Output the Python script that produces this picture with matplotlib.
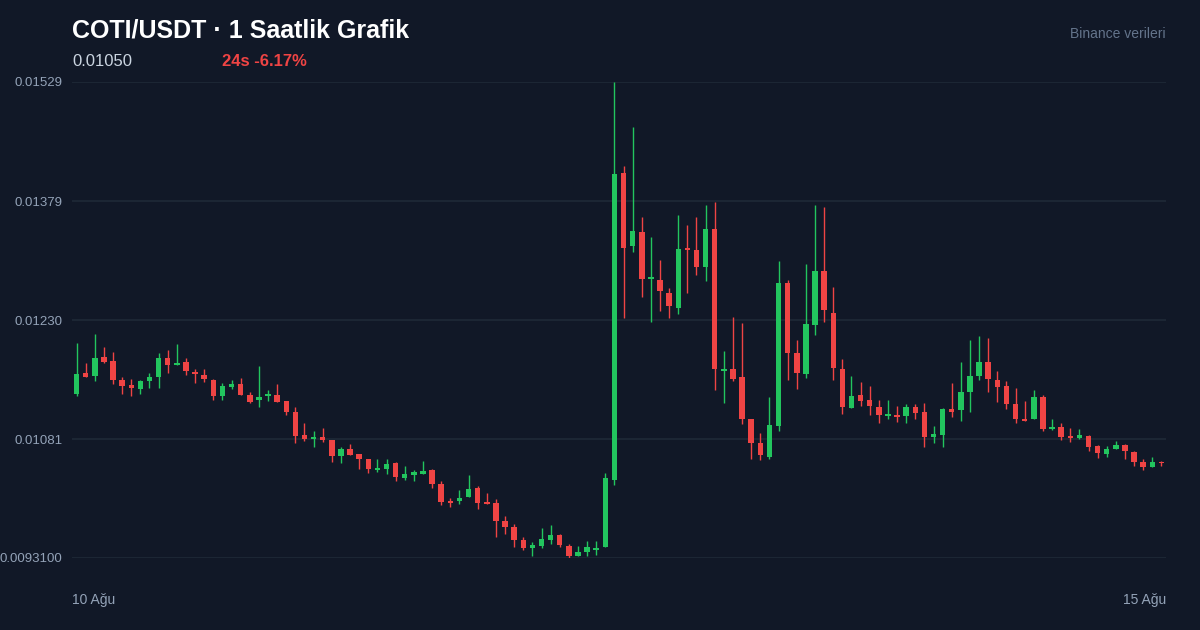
import numpy as np
import matplotlib
matplotlib.use("Agg")
import matplotlib.pyplot as plt

plt.rcParams['font.family'] = ['Liberation Sans', 'DejaVu Sans']

# COTI/USDT saatlik mumlar (120 adet)
opens = [0.01137, 0.01163, 0.01160, 0.01183, 0.01178, 0.01155, 0.01148, 0.01143, 0.01153, 0.01158,
         0.01182, 0.01173, 0.01177, 0.01165, 0.01161, 0.01155, 0.01134, 0.01146, 0.01150, 0.01136,
         0.01129, 0.01134, 0.01136, 0.01128, 0.01114, 0.01085, 0.01081, 0.01083, 0.01079, 0.01059,
         0.01068, 0.01062, 0.01055, 0.01041, 0.01043, 0.01050, 0.01032, 0.01035, 0.01037, 0.01041,
         0.01024, 0.01003, 0.01002, 0.01008, 0.01019, 0.01001, 0.01000, 0.00978, 0.00970, 0.00953,
         0.00944, 0.00946, 0.00954, 0.00960, 0.00946, 0.00934, 0.00938, 0.00941, 0.00945, 0.01029,
         0.01415, 0.01323, 0.01341, 0.01282, 0.01280, 0.01264, 0.01245, 0.01320, 0.01318, 0.01297,
         0.01344, 0.01166, 0.01168, 0.01158, 0.01105, 0.01075, 0.01058, 0.01097, 0.01277, 0.01188,
         0.01162, 0.01224, 0.01292, 0.01239, 0.01168, 0.01120, 0.01136, 0.01130, 0.01121, 0.01110,
         0.01111, 0.01110, 0.01121, 0.01114, 0.01083, 0.01086, 0.01118, 0.01117, 0.01139, 0.01160,
         0.01177, 0.01155, 0.01147, 0.01124, 0.01105, 0.01105, 0.01133, 0.01093, 0.01096, 0.01084,
         0.01082, 0.01084, 0.01072, 0.01062, 0.01068, 0.01073, 0.01064, 0.01051, 0.01045, 0.01052]
highs = [0.01201, 0.01176, 0.01212, 0.01196, 0.01190, 0.01159, 0.01156, 0.01154, 0.01164, 0.01189,
         0.01192, 0.01200, 0.01182, 0.01169, 0.01168, 0.01156, 0.01151, 0.01155, 0.01157, 0.01140,
         0.01172, 0.01142, 0.01150, 0.01128, 0.01121, 0.01100, 0.01091, 0.01094, 0.01079, 0.01070,
         0.01074, 0.01062, 0.01056, 0.01055, 0.01055, 0.01052, 0.01047, 0.01042, 0.01053, 0.01043,
         0.01028, 0.01007, 0.01016, 0.01035, 0.01021, 0.01013, 0.01005, 0.00984, 0.00974, 0.00957,
         0.00951, 0.00969, 0.00973, 0.00961, 0.00949, 0.00946, 0.00952, 0.00952, 0.01038, 0.01529,
         0.01424, 0.01473, 0.01360, 0.01334, 0.01305, 0.01270, 0.01362, 0.01349, 0.01360, 0.01374,
         0.01378, 0.01191, 0.01234, 0.01226, 0.01105, 0.01088, 0.01133, 0.01304, 0.01280, 0.01205,
         0.01300, 0.01375, 0.01372, 0.01271, 0.01181, 0.01160, 0.01152, 0.01147, 0.01130, 0.01129,
         0.01122, 0.01124, 0.01124, 0.01126, 0.01097, 0.01119, 0.01151, 0.01177, 0.01205, 0.01210,
         0.01207, 0.01166, 0.01153, 0.01144, 0.01128, 0.01142, 0.01136, 0.01106, 0.01101, 0.01094,
         0.01093, 0.01085, 0.01073, 0.01072, 0.01078, 0.01074, 0.01065, 0.01056, 0.01058, 0.01053]
lows = [0.01134, 0.01158, 0.01153, 0.01176, 0.01150, 0.01137, 0.01134, 0.01137, 0.01145, 0.01145,
        0.01163, 0.01173, 0.01161, 0.01151, 0.01152, 0.01130, 0.01129, 0.01143, 0.01136, 0.01126,
        0.01121, 0.01128, 0.01127, 0.01111, 0.01075, 0.01078, 0.01070, 0.01077, 0.01052, 0.01050,
        0.01060, 0.01043, 0.01038, 0.01039, 0.01036, 0.01028, 0.01029, 0.01028, 0.01037, 0.01019,
        0.00998, 0.00995, 0.00999, 0.01008, 0.00992, 0.00999, 0.00957, 0.00961, 0.00945, 0.00941,
        0.00934, 0.00943, 0.00949, 0.00945, 0.00931, 0.00934, 0.00933, 0.00935, 0.00945, 0.01023,
        0.01232, 0.01316, 0.01259, 0.01228, 0.01241, 0.01232, 0.01237, 0.01264, 0.01287, 0.01279,
        0.01142, 0.01126, 0.01153, 0.01099, 0.01056, 0.01054, 0.01056, 0.01091, 0.01155, 0.01143,
        0.01157, 0.01211, 0.01228, 0.01154, 0.01112, 0.01120, 0.01122, 0.01111, 0.01101, 0.01106,
        0.01102, 0.01100, 0.01106, 0.01070, 0.01076, 0.01070, 0.01108, 0.01103, 0.01115, 0.01154,
        0.01140, 0.01127, 0.01118, 0.01100, 0.01103, 0.01105, 0.01090, 0.01092, 0.01079, 0.01077,
        0.01081, 0.01065, 0.01057, 0.01058, 0.01068, 0.01055, 0.01046, 0.01041, 0.01045, 0.01046]
closes = [0.01162, 0.01158, 0.01182, 0.01177, 0.01155, 0.01147, 0.01144, 0.01153, 0.01158, 0.01182,
          0.01173, 0.01176, 0.01166, 0.01162, 0.01156, 0.01135, 0.01147, 0.01149, 0.01136, 0.01127,
          0.01133, 0.01137, 0.01127, 0.01114, 0.01084, 0.01080, 0.01083, 0.01079, 0.01059, 0.01068,
          0.01060, 0.01056, 0.01043, 0.01044, 0.01049, 0.01033, 0.01036, 0.01039, 0.01040, 0.01024,
          0.01001, 0.01000, 0.01007, 0.01018, 0.01000, 0.00999, 0.00977, 0.00970, 0.00953, 0.00944,
          0.00947, 0.00955, 0.00960, 0.00947, 0.00934, 0.00939, 0.00945, 0.00944, 0.01031, 0.01414,
          0.01321, 0.01342, 0.01282, 0.01283, 0.01266, 0.01248, 0.01319, 0.01318, 0.01297, 0.01344,
          0.01169, 0.01168, 0.01156, 0.01106, 0.01076, 0.01060, 0.01098, 0.01276, 0.01189, 0.01164,
          0.01225, 0.01292, 0.01242, 0.01170, 0.01121, 0.01135, 0.01128, 0.01122, 0.01111, 0.01112,
          0.01108, 0.01121, 0.01113, 0.01083, 0.01087, 0.01118, 0.01115, 0.01139, 0.01160, 0.01177,
          0.01156, 0.01146, 0.01125, 0.01105, 0.01103, 0.01133, 0.01093, 0.01096, 0.01083, 0.01082,
          0.01085, 0.01070, 0.01063, 0.01068, 0.01073, 0.01065, 0.01051, 0.01045, 0.01051, 0.01050]

ytick_labels = ['0.0093100', '0.01081', '0.01230', '0.01379', '0.01529']
xtick_labels = ['10 Ağu', '15 Ağu']
title = 'COTI/USDT · 1 Saatlik Grafik'
last_price = '0.01050'
change_24h = '24s -6.17%'
source = 'Binance verileri'

BG = '#111827'
GREEN = '#22c55e'
RED = '#ef4444'

o = np.array(opens)
h = np.array(highs)
l = np.array(lows)
c = np.array(closes)
x = np.arange(len(o))
up = c >= o
colors = np.where(up, GREEN, RED)

fig = plt.figure(figsize=(12, 6.3), dpi=100, facecolor=BG)
ax = fig.add_axes([72 / 1200, 1 - 558 / 630, 1094 / 1200, 476 / 630])
ax.set_facecolor(BG)

ymin, ymax = 0.00931, 0.01529
ax.set_ylim(ymin, ymax)
ax.set_xlim(-0.5, len(o) - 0.5)

ax.set_yticks(np.linspace(ymin, ymax, 5))
ax.set_yticklabels(ytick_labels)
ax.grid(axis='y', color='#1f2937', lw=1.2)
ax.set_axisbelow(True)

# fitiller ve govdeler
ax.vlines(x, l, h, colors=colors, lw=1.0, zorder=2)
body_h = np.maximum(np.abs(c - o), 0.00002)
body_b = np.minimum(o, c)
ax.bar(x, body_h, bottom=body_b, width=0.6, color=colors, zorder=3)

ax.set_xticks([-0.5, len(o) - 0.5])
ax.set_xticklabels(xtick_labels)
labs = ax.get_xticklabels()
labs[0].set_ha('left')
labs[1].set_ha('right')

ax.tick_params(axis='y', length=0, pad=7, labelsize=9.5, labelcolor='#94a3b8')
ax.tick_params(axis='x', length=0, pad=25, labelsize=10, labelcolor='#94a3b8')
for s in ax.spines.values():
    s.set_visible(False)

fig.text(72 / 1200, 1 - 37.5 / 630, title, color='white', fontsize=18,
         fontweight='bold', va='baseline', ha='left')
fig.text(72 / 1200, 1 - 65.7 / 630, last_price, color='#cbd5e1', fontsize=12,
         va='baseline', ha='left')
fig.text(222 / 1200, 1 - 65.7 / 630, change_24h, color=RED, fontsize=12,
         fontweight='bold', va='baseline', ha='left')
fig.text(1166 / 1200, 1 - 38.3 / 630, source, color='#64748b', fontsize=10,
         va='baseline', ha='right')

fig.savefig('out.png', dpi=100, facecolor=BG)
